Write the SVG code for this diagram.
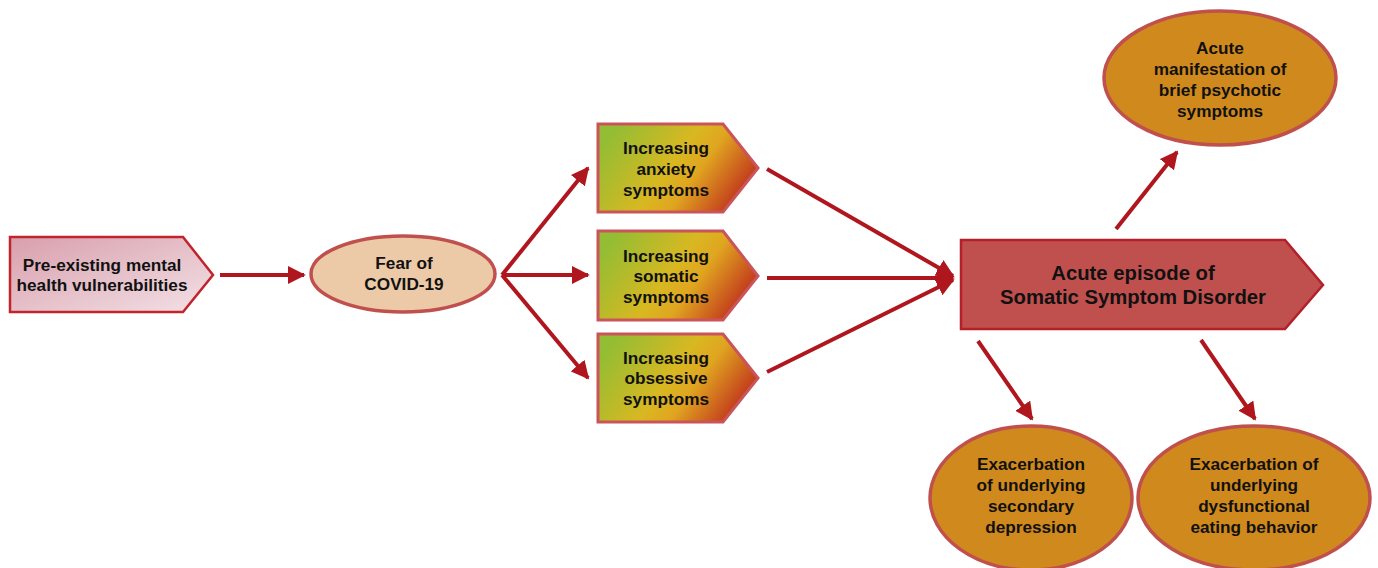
<svg xmlns="http://www.w3.org/2000/svg" width="1378" height="568" viewBox="0 0 1378 568">
<style>
.t{font-family:"Liberation Sans",Arial,sans-serif;font-weight:bold;font-size:17.2px;fill:#111;text-anchor:middle}
.big{font-size:20.3px}
.arr{stroke:#b0161e;stroke-width:4;fill:none;marker-end:url(#ah)}
.orange{fill:#d0891c;stroke:#c0504d;stroke-width:3.5}
.grn{fill:url(#gg);stroke:#c9555a;stroke-width:3}
</style>
<defs>
<marker id="ah" viewBox="0 0 10 10" refX="9" refY="5" markerWidth="18" markerHeight="18" markerUnits="userSpaceOnUse" orient="auto">
<path d="M0,0 L10,5 L0,10 Z" fill="#b0161e"/>
</marker>
<linearGradient id="pg" x1="0" y1="0" x2="1" y2="1">
<stop offset="0" stop-color="#d89fac"/>
<stop offset="1" stop-color="#f3e1e6"/>
</linearGradient>
<linearGradient id="gg" x1="0" y1="0.3" x2="1" y2="0.7">
<stop offset="0" stop-color="#93bd34"/>
<stop offset="0.45" stop-color="#d8b821"/>
<stop offset="0.62" stop-color="#e0a520"/>
<stop offset="1" stop-color="#bc251c"/>
</linearGradient>
</defs>
<g id="connectors">
<line class="arr" x1="220" y1="275" x2="304" y2="275"/>
<line class="arr" x1="502" y1="275" x2="588" y2="168"/>
<line class="arr" x1="502" y1="275" x2="588" y2="275"/>
<line class="arr" x1="502" y1="275" x2="588" y2="378"/>
<line class="arr" x1="767" y1="169" x2="953" y2="276"/>
<line class="arr" x1="767" y1="278" x2="953" y2="278"/>
<line class="arr" x1="767" y1="372" x2="953" y2="280"/>
<line class="arr" x1="1116" y1="229" x2="1177" y2="152"/>
<line class="arr" x1="978" y1="341" x2="1032" y2="419"/>
<line class="arr" x1="1201" y1="340" x2="1255" y2="419"/>
</g>
<g id="n-preexisting">
<polygon points="10,237 183,237 213,275 183,312 10,312" fill="url(#pg)" stroke="#c2242c" stroke-width="2.5"/>
<text class="t" x="102" y="271">Pre-existing mental</text>
<text class="t" x="102" y="291">health vulnerabilities</text>
</g>
<g id="n-fear">
<ellipse cx="403" cy="274" rx="92" ry="38" fill="#eccaa7" stroke="#c0504d" stroke-width="3.5"/>
<text class="t" x="404" y="269">Fear of</text>
<text class="t" x="404" y="290">COVID-19</text>
</g>
<g id="n-anxiety">
<polygon class="grn" points="598,124 723,124 758,168 723,212 598,212"/>
<text class="t" x="666" y="154">Increasing</text>
<text class="t" x="666" y="175">anxiety</text>
<text class="t" x="666" y="196">symptoms</text>
</g>
<g id="n-somatic">
<polygon class="grn" points="598,231 723,231 758,276 723,320 598,320"/>
<text class="t" x="666" y="262">Increasing</text>
<text class="t" x="666" y="282">somatic</text>
<text class="t" x="666" y="303">symptoms</text>
</g>
<g id="n-obsessive">
<polygon class="grn" points="598,334 723,334 758,378 723,422 598,422"/>
<text class="t" x="666" y="364">Increasing</text>
<text class="t" x="666" y="384">obsessive</text>
<text class="t" x="666" y="405">symptoms</text>
</g>
<g id="n-ssd">
<polygon points="961,240 1285,240 1323,285 1285,329 961,329" fill="#c0504d" stroke="#b3202a" stroke-width="2.5"/>
<text class="t big" x="1133" y="280">Acute episode of</text>
<text class="t big" x="1133" y="304">Somatic Symptom Disorder</text>
</g>
<g id="n-psychotic">
<ellipse class="orange" cx="1220" cy="78" rx="116" ry="67"/>
<text class="t" x="1220" y="54">Acute</text>
<text class="t" x="1220" y="75">manifestation of</text>
<text class="t" x="1220" y="96">brief psychotic</text>
<text class="t" x="1220" y="117">symptoms</text>
</g>
<g id="n-depression">
<ellipse class="orange" cx="1031" cy="498" rx="101" ry="72"/>
<text class="t" x="1031" y="470">Exacerbation</text>
<text class="t" x="1031" y="491">of underlying</text>
<text class="t" x="1031" y="512">secondary</text>
<text class="t" x="1031" y="533">depression</text>
</g>
<g id="n-eating">
<ellipse class="orange" cx="1254" cy="498" rx="116" ry="72"/>
<text class="t" x="1254" y="470">Exacerbation of</text>
<text class="t" x="1254" y="491">underlying</text>
<text class="t" x="1254" y="512">dysfunctional</text>
<text class="t" x="1254" y="533">eating behavior</text>
</g>
</svg>
